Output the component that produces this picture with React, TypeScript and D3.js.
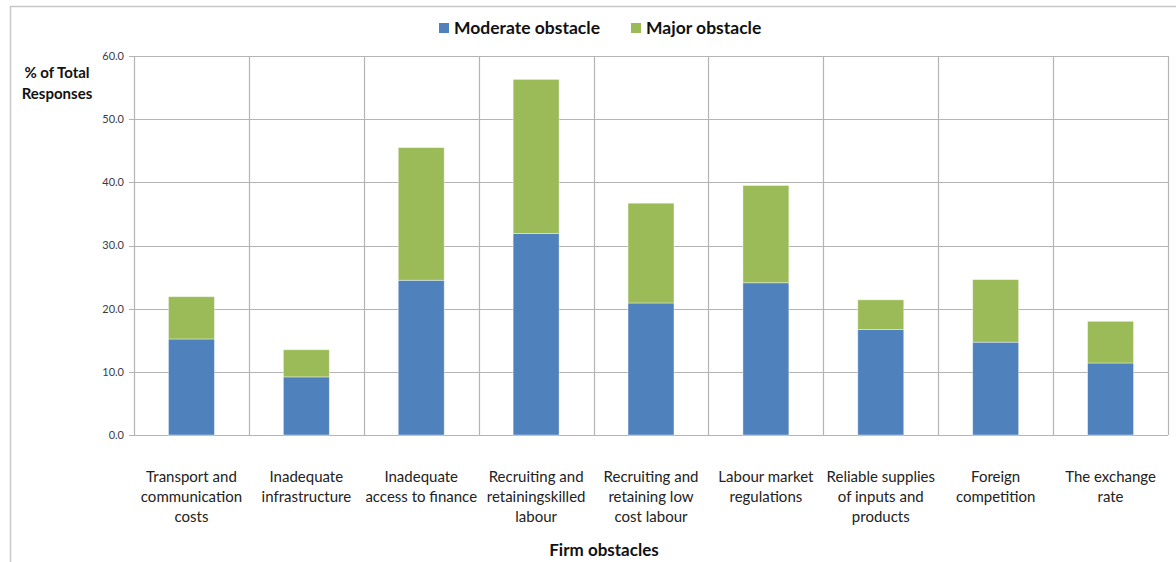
import React from "react";
import * as d3 from "d3";

const categories: string[][] = [
  ["Transport and", "communication", "costs"],
  ["Inadequate", "infrastructure"],
  ["Inadequate", "access to finance"],
  ["Recruiting and", "retainingskilled", "labour"],
  ["Recruiting and", "retaining low", "cost labour"],
  ["Labour market", "regulations"],
  ["Reliable supplies", "of inputs and", "products"],
  ["Foreign", "competition"],
  ["The exchange", "rate"],
];
const moderate = [15.2, 9.2, 24.5, 31.9, 20.9, 24.1, 16.7, 14.7, 11.4];
const major = [6.7, 4.3, 21.0, 24.4, 15.8, 15.4, 4.7, 9.9, 6.6];
const yTicks = [0, 10, 20, 30, 40, 50, 60];
const seriesNames = ["Moderate obstacle", "Major obstacle"];
const colors = ["#4F81BD", "#9BBB59"];

const W = 1176;
const H = 562;
const FONT = "Lato, 'Open Sans', sans-serif";

export default function App() {
  const left = 134, right = 1168, top = 56, bottom = 435;
  const idx = categories.map((_, i) => String(i));
  const x = d3.scaleBand<string>().domain(idx).range([left, right]).paddingInner(0).paddingOuter(0);
  const y = d3.scaleLinear().domain([0, 60]).range([bottom, top]);
  const bw = x.bandwidth() * 0.4;
  const stackData = categories.map((_, i) => ({ i: String(i), moderate: moderate[i], major: major[i] }));
  const stack = d3.stack<any>().keys(["moderate", "major"])(stackData);
  const grid = "#b4b4b4";

  return (
    <svg width={W} height={H} style={{ position: "absolute", left: 0, top: 0, background: "#fff" }} fontFamily={FONT}>
      <rect x={0} y={0} width={W} height={H} fill="#fff" />
      {/* outer chart border */}
      <path d={`M10.5,${H} V6.5 H${W}`} fill="none" stroke="#c8c8c8" strokeWidth={1.5} />
      {/* horizontal gridlines */}
      {yTicks.map((t) => (
        <line key={"h" + t} x1={left - 5} x2={right} y1={Math.round(y(t)) + 0.5} y2={Math.round(y(t)) + 0.5} stroke={grid} strokeWidth={1.2} />
      ))}
      {/* vertical gridlines */}
      {idx.map((d) => (
        <line key={"v" + d} x1={Math.round(x(d)!) + 0.5} x2={Math.round(x(d)!) + 0.5} y1={top} y2={bottom} stroke={grid} strokeWidth={1.2} />
      ))}
      <line x1={right + 0.5} x2={right + 0.5} y1={top} y2={bottom} stroke={grid} strokeWidth={1.2} />
      {/* y tick labels */}
      {yTicks.map((t) => (
        <text key={"t" + t} x={left - 10} y={y(t)} dy="0.35em" textAnchor="end" fontSize={11} fill="#3a3a4a">
          {t.toFixed(1)}
        </text>
      ))}
      {/* bars */}
      {stack.map((s, si) => (
        <g key={si} fill={colors[si]}>
          {s.map((d, i) => (
            <rect
              key={i}
              x={x(String(i))! + (x.bandwidth() - bw) / 2}
              y={y(d[1])}
              width={bw}
              height={y(d[0]) - y(d[1])}
              stroke="rgba(255,255,255,0.5)"
              strokeWidth={0.8}
            />
          ))}
        </g>
      ))}
      {/* x labels */}
      {categories.map((lines, i) => (
        <text key={"x" + i} x={x(String(i))! + x.bandwidth() / 2} y={482} textAnchor="middle" fontSize={15} fill="#222">
          {lines.map((l, j) => (
            <tspan key={j} x={x(String(i))! + x.bandwidth() / 2} dy={j === 0 ? 0 : 20}>
              {l}
            </tspan>
          ))}
        </text>
      ))}
      {/* axis titles */}
      <text x={604} y={556} textAnchor="middle" fontSize={17} fontWeight="bold" fill="#111">Firm obstacles</text>
      <text x={57} y={78} textAnchor="middle" fontSize={15} fontWeight="bold" fill="#111">
        <tspan x={57} dy={0}>% of Total</tspan>
        <tspan x={57} dy={21}>Responses</tspan>
      </text>
      {/* legend */}
      {seriesNames.map((n, i) => {
        const lx = [439, 631][i];
        return (
          <g key={n}>
            <rect x={lx} y={23} width={10} height={10} fill={colors[i]} />
            <text x={lx + 15} y={34} fontSize={17.5} fontWeight="bold" fill="#111">{n}</text>
          </g>
        );
      })}
    </svg>
  );
}
